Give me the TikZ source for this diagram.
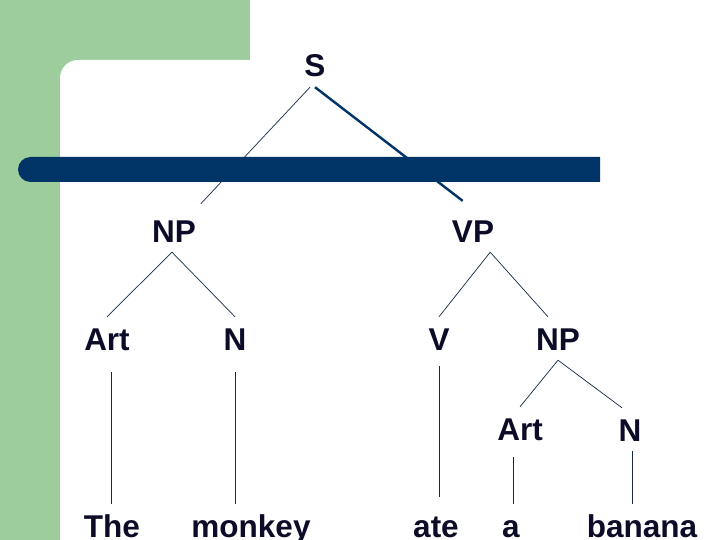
\documentclass[tikz,border=0pt]{standalone}
\usepackage{fontspec}
\setmainfont{Liberation Sans}
\definecolor{slidegreen}{RGB}{157,204,157}
\definecolor{barblue}{RGB}{0,51,102}
\definecolor{inkblue}{RGB}{12,12,40}
\definecolor{edgeblue}{RGB}{20,40,70}
\begin{document}
\begin{tikzpicture}[x=1pt, y=-1pt,
    word/.style={anchor=base, text=inkblue, font=\bfseries\fontsize{31.5}{36}\selectfont,
        text height=23pt, text depth=0pt, inner xsep=0pt, inner ysep=10pt},
    branch/.style={draw=edgeblue, line width=.7pt},
    heavy/.style={draw=barblue, line width=2.4pt}]
        \useasboundingbox (0,0) rectangle (720,540);
        \fill[slidegreen] (0,0) rectangle (250,540);
        \fill[white, rounded corners=18pt] (60,60) rectangle (760,580);

        \node[word] (s) at (315,77) {S};
        \node[word] (np) at (174,242) {NP};
        \node[word] (vp) at (473,242) {VP};

        \draw[branch, shorten >=7pt] ([xshift=-5pt]s.south) to (np.north east);
        \draw[heavy, shorten >=13pt] (s.south) to (vp.north);

        \fill[barblue] (600,157) -- (600,182) [rounded corners=12.5pt] -- (18,182) -- (18,157) [sharp corners] -- cycle;

        \node[word] (art) at (107,350) {Art};
        \node[word] (n) at (235,350) {N};
        \node[word] (v) at (439,350) {V};
        \node[word] (np2) at (558,350) {NP};
        \node[word] (art2) at (520,440) {Art};
        \node[word] (n2) at (630,441) {N};

        \node[word] (the) at (112,537) {The};
        \node[word] (monkey) at (251,537) {monkey};
        \node[word] (ate) at (436,537) {ate};
        \node[word] (a) at (511,537) {a};
        \node[word] (banana) at (642,537) {banana};

        \draw[branch] ([xshift=-2pt]np.south) to (art.north);
        \draw[branch] ([xshift=-2pt]np.south) to (n.north);
        \draw[branch] ([xshift=-4pt]vp.south east) to (v.north);
        \draw[branch] ([xshift=-4pt]vp.south east) to ([xshift=-10pt]np2.north);
        \draw[branch] (np2.south) to (art2.north);
        \draw[branch] (np2.south) to ([xshift=-8pt]n2.north);

        \draw[branch, shorten >=12pt] ([xshift=-1pt]the.north) to ([xshift=-1pt]the.north |- art.south);
        \draw[branch, shorten <=12pt] (n.south) to (n.south |- monkey.north);
        \draw[branch, shorten <=6pt, shorten >=7pt] (v.south) to (v.south |- ate.north);
        \draw[branch, shorten >=7pt] ([xshift=2pt]a.north) to ([xshift=2pt]a.north |- art2.south);
        \draw[branch] ([xshift=2pt]n2.south) to ([xshift=2pt]n2.south |- banana.north);
\end{tikzpicture}
\end{document}
